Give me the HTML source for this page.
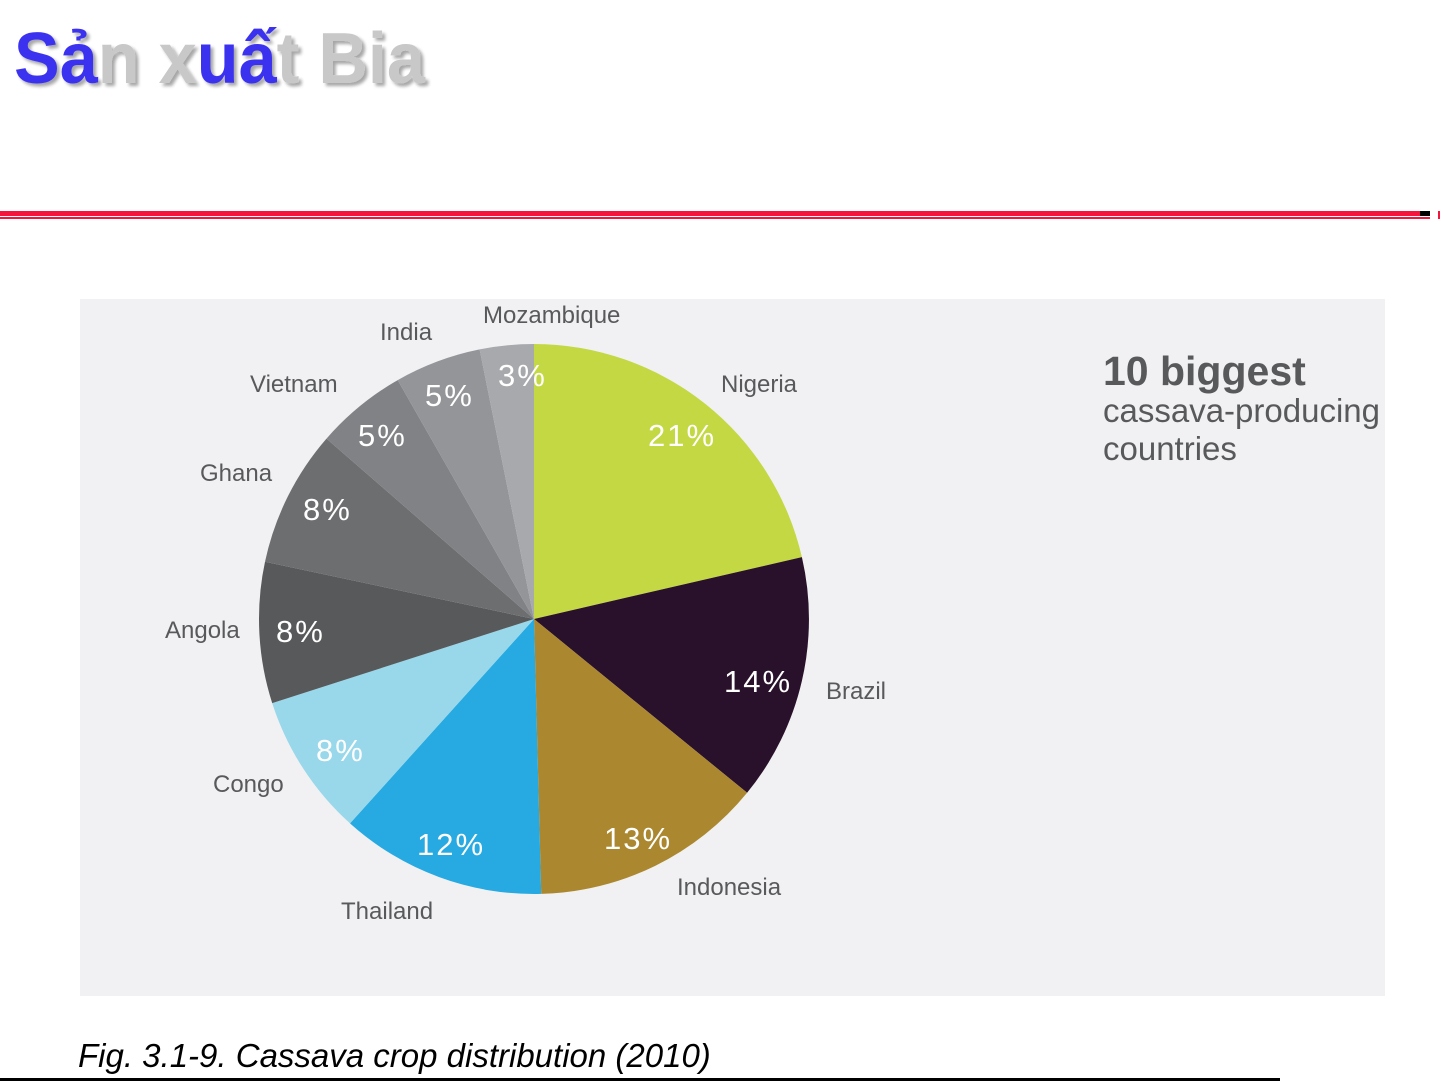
<!DOCTYPE html>
<html><head><meta charset="utf-8"><style>
html,body{margin:0;padding:0;background:#fff;}
body{width:1441px;height:1081px;position:relative;overflow:hidden;font-family:"Liberation Sans",sans-serif;}
</style></head><body>
<svg width="1441" height="1081" viewBox="0 0 1441 1081" xmlns="http://www.w3.org/2000/svg" style="position:absolute;left:0;top:0">
<defs><filter id="sh" x="-10%" y="-10%" width="130%" height="130%"><feGaussianBlur in="SourceAlpha" stdDeviation="1.5"/><feOffset dx="3" dy="3"/><feComponentTransfer><feFuncA type="linear" slope="0.35"/></feComponentTransfer><feMerge><feMergeNode/><feMergeNode in="SourceGraphic"/></feMerge></filter></defs>
<text x="14" y="83" font-family="Liberation Sans, sans-serif" font-weight="bold" font-size="72" textLength="411" lengthAdjust="spacingAndGlyphs" filter="url(#sh)"><tspan fill="#3a32f0">Sả</tspan><tspan fill="#c8c8c8">n x</tspan><tspan fill="#3a32f0">uấ</tspan><tspan fill="#c8c8c8">t Bia</tspan></text>
<rect x="0" y="211" width="1420" height="5" fill="#f5143c"/>
<rect x="0" y="217" width="1430" height="2" fill="#f5143c"/>
<rect x="1420" y="211" width="10" height="5" fill="#000"/>
<rect x="1438" y="211" width="2" height="8" fill="#f5143c"/>
<rect x="0" y="1078" width="1280" height="3" fill="#000"/>
<rect x="80" y="299" width="1305" height="697" fill="#f1f1f3"/>
<g stroke="none">
<path d="M534,619 L534,344 A275,275 0 0 1 801.9,557.1 Z" fill="#c4d843"/>
<path d="M534,619 L801.9,557.1 A275,275 0 0 1 747.1,792.8 Z" fill="#2a112b"/>
<path d="M534,619 L747.1,792.8 A275,275 0 0 1 541.2,893.9 Z" fill="#ab882f"/>
<path d="M534,619 L541.2,893.9 A275,275 0 0 1 350,823.4 Z" fill="#27aae1"/>
<path d="M534,619 L350,823.4 A275,275 0 0 1 272.2,703.1 Z" fill="#98d8ea"/>
<path d="M534,619 L272.2,703.1 A275,275 0 0 1 265,561.8 Z" fill="#58595b"/>
<path d="M534,619 L265,561.8 A275,275 0 0 1 326.5,438.6 Z" fill="#6d6e70"/>
<path d="M534,619 L326.5,438.6 A275,275 0 0 1 397.7,380.1 Z" fill="#808285"/>
<path d="M534,619 L397.7,380.1 A275,275 0 0 1 479.6,349.4 Z" fill="#939598"/>
<path d="M534,619 L479.6,349.4 A275,275 0 0 1 534,344 Z" fill="#a8a9ac"/>
</g>
<g font-family="Liberation Sans, sans-serif" font-size="31" fill="#fff" letter-spacing="2">
<text x="648" y="446">21%</text>
<text x="724" y="692">14%</text>
<text x="604" y="849">13%</text>
<text x="417" y="855">12%</text>
<text x="316" y="761">8%</text>
<text x="276" y="642">8%</text>
<text x="303" y="520">8%</text>
<text x="358" y="446">5%</text>
<text x="425" y="406">5%</text>
<text x="498" y="386">3%</text>
</g>
<g font-family="Liberation Sans, sans-serif" font-size="24" fill="#58595b">
<text x="483" y="323">Mozambique</text>
<text x="380" y="340">India</text>
<text x="250" y="392">Vietnam</text>
<text x="200" y="481">Ghana</text>
<text x="165" y="638">Angola</text>
<text x="213" y="792">Congo</text>
<text x="341" y="919">Thailand</text>
<text x="677" y="895">Indonesia</text>
<text x="826" y="699">Brazil</text>
<text x="721" y="392">Nigeria</text>
</g>
<text x="1103" y="385" font-family="Liberation Sans, sans-serif" font-weight="bold" font-size="41" fill="#58595b">10 biggest</text>
<text x="1103" y="422" font-family="Liberation Sans, sans-serif" font-size="33" fill="#58595b">cassava-producing</text>
<text x="1103" y="460" font-family="Liberation Sans, sans-serif" font-size="33" fill="#58595b">countries</text>
<text x="78" y="1067" font-family="Liberation Sans, sans-serif" font-style="italic" font-size="33" fill="#000">Fig. 3.1-9. Cassava crop distribution (2010)</text>
</svg>
</body></html>
